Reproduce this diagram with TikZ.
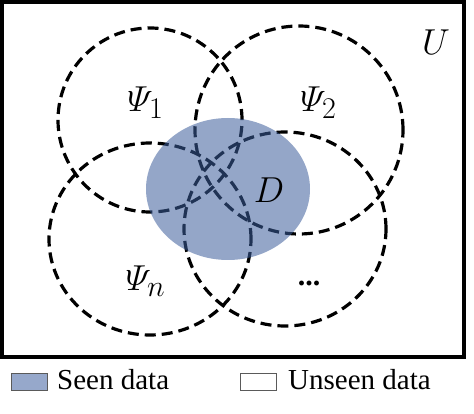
\documentclass[tikz,border=0pt]{standalone}
\usepackage{amsmath}
\usepackage{fontspec}
\setmainfont{Liberation Serif}
\usetikzlibrary{shapes.geometric}
\definecolor{seenblue}{RGB}{60,93,155}
\definecolor{legendblue}{RGB}{150,168,203}
\definecolor{boxgray}{RGB}{90,90,90}
\begin{document}
\begin{tikzpicture}[x=1pt,y=-1pt,
  setcircle/.style={draw=black, line width=3.2pt, dash pattern=on 11pt off 6pt, inner sep=0pt, outer sep=0pt},
  mathlabel/.style={inner sep=0pt, font=\Huge, scale=1.45},
  legendtext/.style={inner sep=0pt, anchor=base west, font=\fontsize{29}{32}\selectfont},
  legendbox/.style={draw=boxgray, line width=0.8pt, inner sep=0pt, anchor=north west, minimum width=36pt, minimum height=17pt}]
\useasboundingbox (0,0) rectangle (474,414);
% universe frame
\draw[line width=4pt] (2,2) rectangle (464,356.5);
% subsets
\node[setcircle, circle, minimum size=184pt] (set1) at (150,120) {};
\node[setcircle, circle, minimum size=208pt] (set2) at (299,130) {};
\node[setcircle, ellipse, minimum width=202pt, minimum height=192pt] (setn) at (150,239) {};
\node[setcircle, ellipse, minimum width=202pt, minimum height=194pt] (set4) at (285,229) {};
% seen data
\node[ellipse, fill=seenblue, fill opacity=0.55, minimum width=164pt, minimum height=142pt, inner sep=0pt] (seen) at (228,189) {};
% labels
\node[mathlabel] (psi1) at (145.5,103) {$\varPsi_1$};
\node[mathlabel] (psi2) at (318.5,103) {$\varPsi_2$};
\node[mathlabel] (psin) at (145.5,281) {$\varPsi_n$};
\node[mathlabel] (dlab) at (269,190) {$D$};
\node[mathlabel] (ulab) at (436,42.5) {$U$};
\node[inner sep=0pt, font=\fontsize{30}{32}\selectfont\bfseries] (dots) at (309,283.5) {...};
% legend
\node[legendbox, fill=legendblue] (seenkey) at (11,373) {};
\node[legendtext] (seenlabel) at (57,389) {Seen data};
\node[legendbox, fill=white] (unseenkey) at (240,373) {};
\node[legendtext] (unseenlabel) at (288,389) {Unseen data};
\end{tikzpicture}
\end{document}
